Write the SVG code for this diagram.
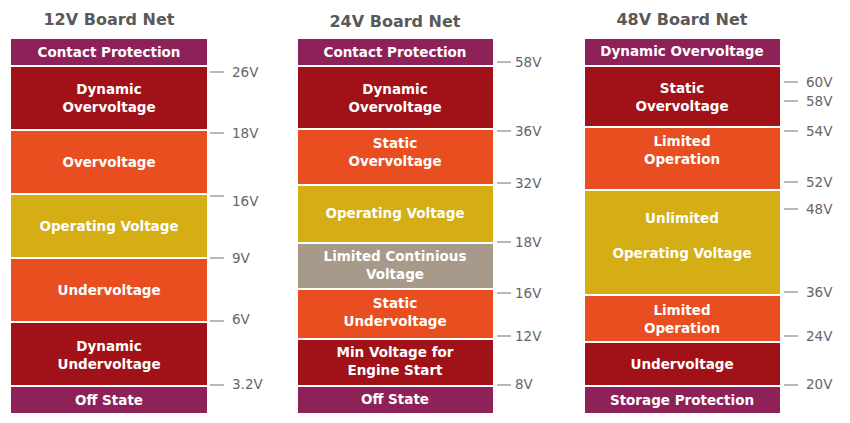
<svg xmlns="http://www.w3.org/2000/svg" width="850" height="423" viewBox="0 0 850 423">
<style>
.t{font-family:"DejaVu Sans",Verdana,sans-serif;font-weight:bold;font-size:16px;fill:#595959;text-anchor:middle}
.l{font-family:"DejaVu Sans",Verdana,sans-serif;font-weight:bold;font-size:13.5px;fill:#fff;text-anchor:middle}
.v{font-family:"DejaVu Sans",Verdana,sans-serif;font-size:13.5px;fill:#666}
.p{fill:#8E2158}.r{fill:#A01218}.o{fill:#E84E1F}.y{fill:#D4AE14}.g{fill:#A89A8A}
.k{stroke:#888;stroke-width:1.2}
</style>
<rect width="850" height="423" fill="#fff"/>
<text class="t" x="109" y="25">12V Board Net</text>
<text class="t" x="395" y="27">24V Board Net</text>
<text class="t" x="682" y="25">48V Board Net</text>
<g id="c1">
<g id="c1a"><rect class="p" x="11" y="39" width="196" height="26"/><text class="l" x="109" y="57">Contact Protection</text></g>
<g id="c1b"><rect class="r" x="11" y="67" width="196" height="62"/><text class="l" x="109" y="94">Dynamic</text><text class="l" x="109" y="112">Overvoltage</text></g>
<g id="c1c"><rect class="o" x="11" y="131" width="196" height="62"/><text class="l" x="109" y="167">Overvoltage</text></g>
<g id="c1d"><rect class="y" x="11" y="195" width="196" height="62"/><text class="l" x="109" y="231">Operating Voltage</text></g>
<g id="c1e"><rect class="o" x="11" y="259" width="196" height="62"/><text class="l" x="109" y="295">Undervoltage</text></g>
<g id="c1f"><rect class="r" x="11" y="323" width="196" height="62"/><text class="l" x="109" y="351">Dynamic</text><text class="l" x="109" y="369">Undervoltage</text></g>
<g id="c1g"><rect class="p" x="11" y="387" width="196" height="26"/><text class="l" x="109" y="405">Off State</text></g>
</g>
<g id="c2">
<g id="c2a"><rect class="p" x="298" y="39" width="195" height="26"/><text class="l" x="395" y="57">Contact Protection</text></g>
<g id="c2b"><rect class="r" x="298" y="67" width="195" height="61"/><text class="l" x="395" y="94">Dynamic</text><text class="l" x="395" y="112">Overvoltage</text></g>
<g id="c2c"><rect class="o" x="298" y="130" width="195" height="54"/><text class="l" x="395" y="148">Static</text><text class="l" x="395" y="166">Overvoltage</text></g>
<g id="c2d"><rect class="y" x="298" y="186" width="195" height="56"/><text class="l" x="395" y="218">Operating Voltage</text></g>
<g id="c2e"><rect class="g" x="298" y="244" width="195" height="44"/><text class="l" x="395" y="261">Limited Continious</text><text class="l" x="395" y="279">Voltage</text></g>
<g id="c2f"><rect class="o" x="298" y="290" width="195" height="48"/><text class="l" x="395" y="308">Static</text><text class="l" x="395" y="326">Undervoltage</text></g>
<g id="c2g"><rect class="r" x="298" y="340" width="195" height="45"/><text class="l" x="395" y="357">Min Voltage for</text><text class="l" x="395" y="375">Engine Start</text></g>
<g id="c2h"><rect class="p" x="298" y="387" width="195" height="26"/><text class="l" x="395" y="404">Off State</text></g>
</g>
<g id="c3">
<g id="c3a"><rect class="p" x="585" y="39" width="195" height="26"/><text class="l" x="682" y="56">Dynamic Overvoltage</text></g>
<g id="c3b"><rect class="r" x="585" y="67" width="195" height="59"/><text class="l" x="682" y="93">Static</text><text class="l" x="682" y="111">Overvoltage</text></g>
<g id="c3c"><rect class="o" x="585" y="128" width="195" height="61"/><text class="l" x="682" y="146">Limited</text><text class="l" x="682" y="164">Operation</text></g>
<g id="c3d"><rect class="y" x="585" y="191" width="195" height="103"/><text class="l" x="682" y="223">Unlimited</text><text class="l" x="682" y="258">Operating Voltage</text></g>
<g id="c3e"><rect class="o" x="585" y="296" width="195" height="45"/><text class="l" x="682" y="315">Limited</text><text class="l" x="682" y="333">Operation</text></g>
<g id="c3f"><rect class="r" x="585" y="343" width="195" height="42"/><text class="l" x="682" y="369">Undervoltage</text></g>
<g id="c3g"><rect class="p" x="585" y="387" width="195" height="26"/><text class="l" x="682" y="405">Storage Protection</text></g>
</g>
<g id="ticks">
<line class="k" x1="210" y1="72" x2="224" y2="72"/><text class="v" x="232" y="77">26V</text>
<line class="k" x1="210" y1="133" x2="224" y2="133"/><text class="v" x="232" y="138">18V</text>
<line class="k" x1="210" y1="196" x2="224" y2="196"/><text class="v" x="232" y="206">16V</text>
<line class="k" x1="210" y1="258" x2="224" y2="258"/><text class="v" x="232" y="263">9V</text>
<line class="k" x1="210" y1="321" x2="224" y2="321"/><text class="v" x="232" y="324">6V</text>
<line class="k" x1="210" y1="385" x2="224" y2="385"/><text class="v" x="232" y="389">3.2V</text>
<line class="k" x1="497" y1="62" x2="511" y2="62"/><text class="v" x="515" y="67">58V</text>
<line class="k" x1="497" y1="131" x2="511" y2="131"/><text class="v" x="515" y="136">36V</text>
<line class="k" x1="497" y1="183" x2="511" y2="183"/><text class="v" x="515" y="188">32V</text>
<line class="k" x1="497" y1="242" x2="511" y2="242"/><text class="v" x="515" y="247">18V</text>
<line class="k" x1="497" y1="293" x2="511" y2="293"/><text class="v" x="515" y="298">16V</text>
<line class="k" x1="497" y1="336" x2="511" y2="336"/><text class="v" x="515" y="341">12V</text>
<line class="k" x1="497" y1="385" x2="511" y2="385"/><text class="v" x="515" y="389">8V</text>
<line class="k" x1="784" y1="82" x2="798" y2="82"/><text class="v" x="806" y="87">60V</text>
<line class="k" x1="784" y1="101" x2="798" y2="101"/><text class="v" x="806" y="106">58V</text>
<line class="k" x1="784" y1="131" x2="798" y2="131"/><text class="v" x="806" y="136">54V</text>
<line class="k" x1="784" y1="182" x2="798" y2="182"/><text class="v" x="806" y="187">52V</text>
<line class="k" x1="784" y1="209" x2="798" y2="209"/><text class="v" x="806" y="214">48V</text>
<line class="k" x1="784" y1="292" x2="798" y2="292"/><text class="v" x="806" y="297">36V</text>
<line class="k" x1="784" y1="336" x2="798" y2="336"/><text class="v" x="806" y="341">24V</text>
<line class="k" x1="784" y1="385" x2="798" y2="385"/><text class="v" x="806" y="389">20V</text>
</g>
</svg>
